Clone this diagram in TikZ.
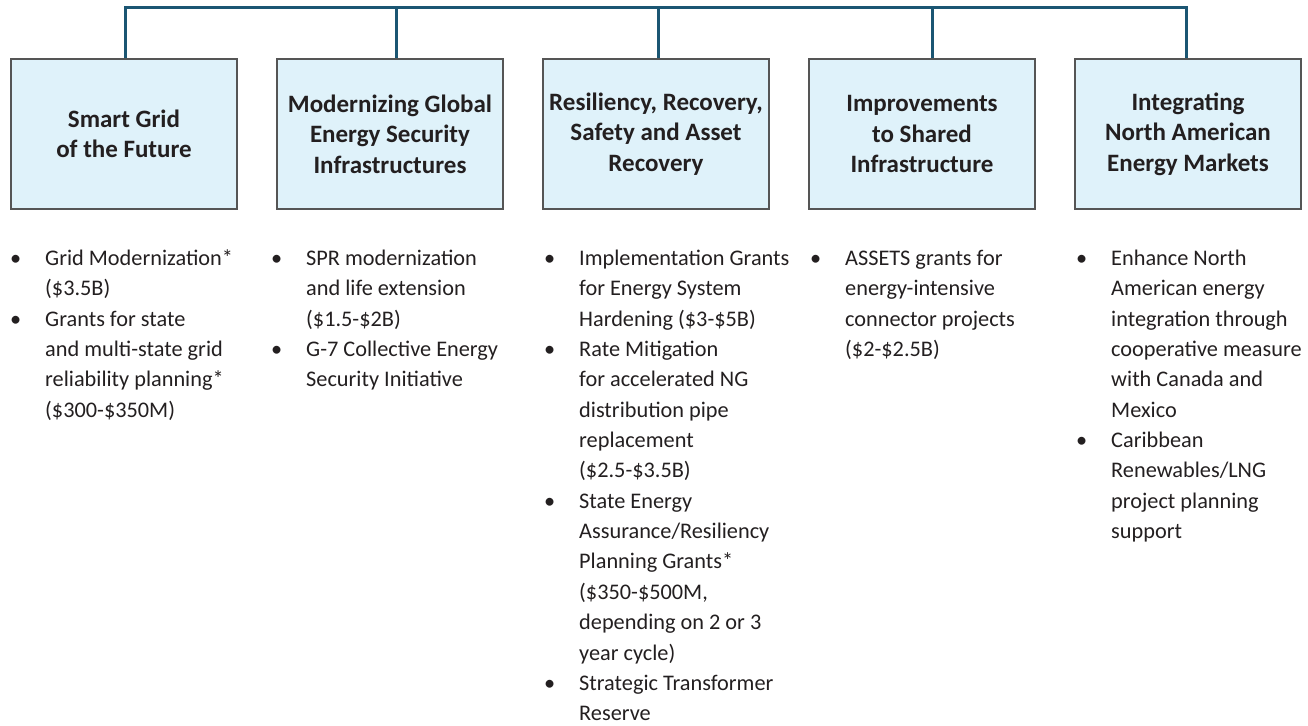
\documentclass[tikz,border=0pt]{standalone}
\usepackage{fontspec}
\setmainfont{Carlito}
\usetikzlibrary{calc}
\definecolor{conncol}{HTML}{1B5673}
\definecolor{boxfill}{HTML}{DFF2FA}
\definecolor{boxline}{HTML}{555555}
\definecolor{txt}{HTML}{231F20}
\newcommand{\bul}{\llap{\textbullet\hspace{24pt}}}
\tikzset{
  titlebox/.style={draw=boxline, line width=1.3pt, fill=boxfill, minimum width=226pt, minimum height=150pt,
    inner sep=0pt, align=center, text=txt, font=\bfseries\fontsize{25}{30.5}\selectfont},
  conn/.style={draw=conncol, line width=3pt},
  blist/.style={anchor=north west, inner sep=0pt, align=left, text=txt, font=\fontsize{22.3}{30.35}\selectfont}
}
\begin{document}
\begin{tikzpicture}[x=1pt,y=-1pt]
\useasboundingbox (0,0) rectangle (1308,725);
\node[titlebox] (b1) at (124,134) {Smart Grid\\of the Future};
\node[titlebox] (b2) at (390,134) {Modernizing Global\\Energy Security\\Infrastructures};
\node[titlebox] (b3) at (656,134) {Resiliency, Recovery,\\Safety and Asset\\Recovery};
\node[titlebox] (b4) at (922,134) {Improvements\\to Shared\\Infrastructure};
\node[titlebox] (b5) at (1188,134) {Integrating\\North American\\Energy Markets};
\coordinate (t1) at (125,8);
\coordinate (t2) at (396,8);
\coordinate (t3) at (658,8);
\coordinate (t4) at (932,8);
\coordinate (t5) at (1186,8);
\draw[conn] (b1.north -| t1) -- (t1) -- (t5) -- (b5.north -| t5);
\draw[conn] (t2) -- (b2.north -| t2);
\draw[conn] (t3) -- (b3.north -| t3);
\draw[conn] (t4) -- (b4.north -| t4);
\node[blist] (l1) at (45,244) {\strut\bul Grid Modernization*\\(\$3.5B)\\\bul Grants for state\\and multi-state grid\\reliability planning*\\(\$300-\$350M)};
\node[blist] (l2) at (306,244) {\strut\bul SPR modernization\\and life extension\\(\$1.5-\$2B)\\\bul G-7 Collective Energy\\Security Initiative};
\node[blist] (l3) at (579,244) {\strut\bul Implementation Grants\\for Energy System\\Hardening (\$3-\$5B)\\\bul Rate Mitigation\\for accelerated NG\\distribution pipe\\replacement\\(\$2.5-\$3.5B)\\\bul State Energy\\Assurance/Resiliency\\Planning Grants*\\(\$350-\$500M,\\depending on 2 or 3\\year cycle)\\\bul Strategic Transformer\\Reserve};
\node[blist] (l4) at (845,244) {\strut\bul ASSETS grants for\\energy-intensive\\connector projects\\(\$2-\$2.5B)};
\node[blist] (l5) at (1111,244) {\strut\bul Enhance North\\American energy\\integration through\\cooperative measure\\with Canada and\\Mexico\\\bul Caribbean\\Renewables/LNG\\project planning\\support};
\end{tikzpicture}
\end{document}
